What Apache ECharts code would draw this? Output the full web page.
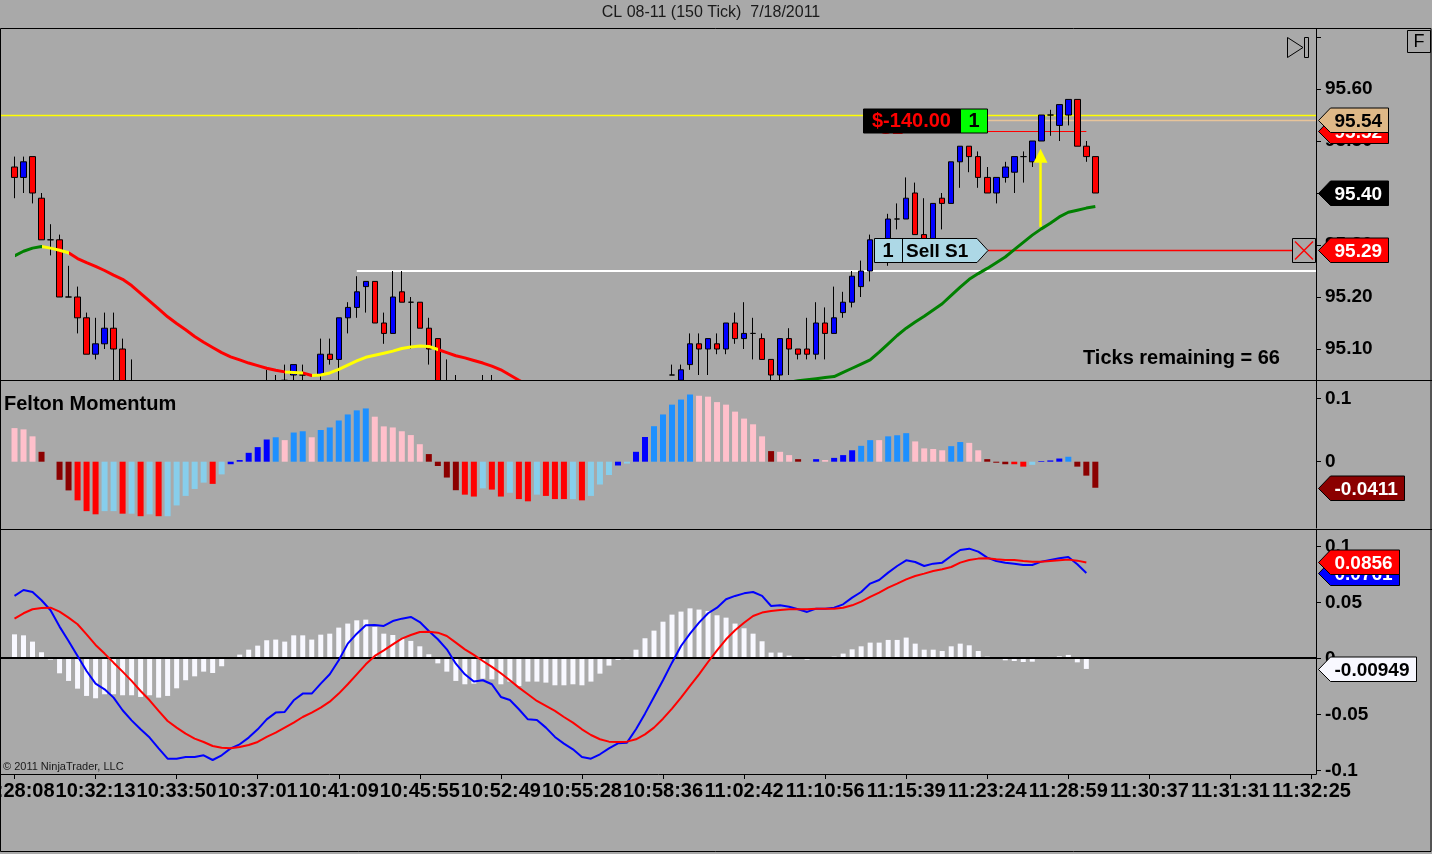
<!DOCTYPE html>
<html><head><meta charset="utf-8">
<script src="https://cdn.jsdelivr.net/npm/echarts@6.0.0/dist/echarts.min.js"></script>
<style>html,body{margin:0;padding:0;background:#a9a9a9;}#c{width:1432px;height:854px;}</style>
</head><body><div id="c"></div>
<script>
// ---------------- DATA ----------------
const chartTitle = 'CL 08-11 (150 Tick)  7/18/2011';
const tickLabels = ['10:28:08','10:32:13','10:33:50','10:37:01','10:41:09','10:45:55','10:52:49','10:55:28','10:58:36',
  '11:02:42','11:10:56','11:15:39','11:23:24','11:28:59','11:30:37','11:31:31','11:32:25'];
const barsPerTick = 9;
const totalSlots = 145;
// [open, close, low, high]
const candles = [
 [95.45,95.43,95.39,95.47],[95.43,95.46,95.40,95.47],[95.47,95.40,95.38,95.47],[95.39,95.31,95.31,95.40],[95.31,95.31,95.28,95.34],
 [95.31,95.20,95.20,95.32],[95.20,95.20,95.20,95.26],[95.20,95.16,95.13,95.22],[95.16,95.09,95.09,95.17],[95.09,95.11,95.08,95.16],
 [95.11,95.14,95.10,95.17],[95.14,95.10,95.02,95.17],[95.10,95.00,94.98,95.12],[95.00,94.96,94.94,95.08],[94.96,94.97,94.94,94.99],
 [94.97,94.95,94.94,94.98],[94.95,94.93,94.92,94.96],[94.93,94.94,94.91,94.95],[94.94,94.96,94.93,94.97],[94.96,94.97,94.95,94.98],
 [94.97,94.96,94.95,94.99],[94.96,94.98,94.95,94.99],[94.98,94.96,94.95,94.99],[94.96,94.99,94.95,95.00],[94.99,95.01,94.98,95.02],
 [95.01,95.00,94.99,95.03],[95.00,95.02,94.99,95.03],[95.02,95.03,95.00,95.03],[95.03,95.02,95.01,95.06],[95.02,95.03,95.01,95.05],
 [95.03,95.04,95.02,95.07],[95.05,95.07,95.04,95.07],[95.05,95.05,95.04,95.07],[95.04,95.02,95.01,95.04],[95.05,95.09,95.03,95.12],
 [95.09,95.08,95.07,95.12],[95.08,95.16,95.04,95.16],[95.16,95.18,95.13,95.19],[95.18,95.21,95.16,95.24],[95.22,95.23,95.17,95.23],
 [95.23,95.15,95.15,95.23],[95.15,95.13,95.11,95.17],[95.13,95.20,95.13,95.25],[95.21,95.19,95.19,95.25],[95.19,95.19,95.10,95.20],
 [95.19,95.14,95.14,95.19],[95.14,95.10,95.07,95.16],[95.12,95.02,95.00,95.12],[95.02,95.01,94.99,95.08],[95.01,95.00,94.98,95.05],
 [95.00,94.98,94.97,95.02],[94.98,94.99,94.97,95.01],[94.99,95.01,94.98,95.05],[95.01,94.99,94.98,95.05],[94.99,94.96,94.95,95.00],
 [94.96,94.97,94.94,94.98],[94.97,94.94,94.93,94.98],[94.94,94.92,94.91,94.95],[94.92,94.93,94.91,94.95],[94.93,94.91,94.90,94.94],
 [94.91,94.89,94.88,94.92],[94.89,94.88,94.87,94.90],[94.88,94.89,94.87,94.91],[94.89,94.87,94.86,94.90],[94.87,94.89,94.86,94.90],
 [94.89,94.92,94.88,94.93],[94.92,94.95,94.91,94.96],[94.95,94.97,94.94,94.98],[94.97,94.96,94.95,94.99],[94.96,95.00,94.95,95.01],
 [95.00,95.02,94.99,95.03],[95.02,95.03,95.01,95.03],[95.03,95.02,95.01,95.03],[95.05,95.05,95.05,95.07],[95.04,95.06,95.03,95.07],
 [95.07,95.11,95.06,95.13],[95.11,95.10,95.05,95.13],[95.10,95.12,95.05,95.12],[95.11,95.10,95.09,95.13],[95.10,95.15,95.09,95.15],
 [95.15,95.12,95.11,95.17],[95.12,95.13,95.10,95.19],[95.13,95.13,95.08,95.16],[95.12,95.08,95.08,95.13],[95.08,95.05,95.03,95.08],
 [95.05,95.12,95.04,95.12],[95.12,95.10,95.05,95.14],[95.10,95.09,95.08,95.10],[95.10,95.09,95.08,95.16],[95.09,95.15,95.08,95.19],
 [95.15,95.13,95.08,95.18],[95.13,95.16,95.13,95.22],[95.17,95.19,95.16,95.21],[95.19,95.24,95.18,95.25],[95.22,95.25,95.20,95.27],
 [95.25,95.31,95.23,95.32],[95.30,95.31,95.28,95.31],[95.31,95.35,95.26,95.36],[95.35,95.35,95.33,95.38],[95.35,95.39,95.35,95.43],
 [95.40,95.32,95.32,95.42],[95.32,95.31,95.31,95.39],[95.31,95.38,95.31,95.38],[95.39,95.38,95.33,95.40],[95.38,95.46,95.38,95.46],
 [95.46,95.49,95.41,95.49],[95.49,95.47,95.44,95.49],[95.47,95.43,95.41,95.48],[95.43,95.40,95.40,95.45],[95.40,95.43,95.38,95.43],
 [95.43,95.45,95.42,95.46],[95.44,95.47,95.40,95.47],[95.47,95.47,95.42,95.48],[95.46,95.50,95.45,95.50],[95.50,95.55,95.50,95.55],
 [95.55,95.55,95.51,95.56],[95.53,95.57,95.50,95.57],[95.55,95.58,95.53,95.58],[95.58,95.49,95.49,95.58],[95.49,95.47,95.46,95.50],
 [95.47,95.40,95.40,95.47]
];
const maValues = [
 95.279,95.288,95.294,95.297,95.294,95.290,95.285,95.274,95.266,95.259,
 95.251,95.242,95.234,95.222,95.207,95.192,95.177,95.162,95.149,95.137,
 95.124,95.113,95.103,95.093,95.085,95.079,95.073,95.068,95.063,95.059,
 95.056,95.055,95.054,95.049,95.050,95.054,95.061,95.069,95.077,95.084,
 95.088,95.092,95.096,95.101,95.104,95.106,95.105,95.099,95.093,95.087,
 95.083,95.078,95.073,95.067,95.060,95.050,95.040,95.031,95.022,95.013,
 95.004,94.996,94.988,94.981,94.975,94.970,94.966,94.963,94.961,94.960,
 94.960,94.961,94.963,94.966,94.970,94.975,94.981,94.988,94.995,95.002,
 95.009,95.015,95.021,95.026,95.030,95.033,95.036,95.039,95.041,95.043,
 95.045,95.047,95.055,95.063,95.071,95.079,95.094,95.110,95.126,95.140,
 95.152,95.163,95.175,95.187,95.203,95.219,95.234,95.245,95.255,95.266,
 95.277,95.291,95.305,95.319,95.331,95.342,95.354,95.363,95.367,95.371,
 95.374
];
// MA colour segments (bar index ranges): rising / flat / falling
const maTrend = [[0,3.0,'up'],[3.0,6.0,'flat'],[6.0,29.8,'down'],[29.8,31.9,'flat'],[31.9,33.0,'down'],
  [33.0,46.5,'flat'],[46.5,72,'down'],[72,80,'flat'],[80,121,'up']];
const feltonValues = [
 0.053,0.051,0.040,0.0156,0.0,-0.0286,-0.0453,-0.061,-0.078,-0.083,
 -0.078,-0.078,-0.082,-0.082,-0.086,-0.083,-0.086,-0.086,-0.069,-0.054,
 -0.043,-0.033,-0.035,-0.020,-0.004,0.0026,0.014,0.023,0.035,0.0385,
 0.034,0.046,0.048,0.0385,0.050,0.054,0.065,0.0745,0.081,0.084,
 0.071,0.0557,0.054,0.048,0.042,0.0276,0.012,-0.0068,-0.025,-0.045,
 -0.052,-0.055,-0.042,-0.044,-0.055,-0.049,-0.059,-0.0625,-0.052,-0.054,
 -0.059,-0.059,-0.059,-0.061,-0.054,-0.036,-0.021,-0.006,-0.003,0.0156,
 0.039,0.056,0.0745,0.090,0.098,0.106,0.104,0.1026,0.094,0.090,
 0.079,0.068,0.059,0.040,0.0167,0.0156,0.0104,0.004,0.0,0.004,
 0.0026,0.006,0.0104,0.018,0.025,0.034,0.034,0.040,0.0417,0.045,
 0.032,0.021,0.020,0.018,0.0245,0.031,0.0297,0.018,0.004,-0.0016,
 -0.004,-0.004,-0.0078,-0.005,0.001,0.002,0.005,0.0078,-0.0078,-0.022,
 -0.0411
];
// P pink, D dark red, R red, S sky blue, B blue, L dodger blue
const feltonStates = [
 'P','P','P','D','D','D','D','R','R','R',
 'S','S','R','S','R','S','R','S','S','S',
 'S','S','R','S','B','B','B','B','B','L',
 'P','L','L','P','L','L','L','L','L','L',
 'P','P','P','P','P','P','D','D','D','D',
 'R','R','S','R','R','S','R','R','S','R',
 'R','R','S','R','S','S','S','B','S','B',
 'B','L','L','L','L','L','P','P','P','P',
 'P','P','P','P','D','P','P','D','D','B',
 'P','B','B','B','L','L','P','L','L','L',
 'P','P','P','P','L','L','P','P','D','D',
 'D','R','R','S','B','B','B','L','D','D',
 'D'
];
const macdValues = [
 0.0557,0.061,0.0592,0.0518,0.0429,0.0283,0.0155,0.0021,-0.0113,-0.0226,
 -0.0277,-0.0351,-0.0464,-0.0554,-0.0634,-0.0708,-0.0804,-0.0896,-0.0896,-0.0881,
 -0.0881,-0.0866,-0.0908,-0.0866,-0.0804,-0.0768,-0.0708,-0.0634,-0.0545,-0.0485,
 -0.0479,-0.0375,-0.0315,-0.0315,-0.0226,-0.0143,-0.0018,0.0131,0.022,0.0295,
 0.0298,0.0289,0.0333,0.0354,0.0369,0.0324,0.0244,0.017,0.008,-0.0048,
 -0.0143,-0.0208,-0.0196,-0.0232,-0.0345,-0.0372,-0.0455,-0.0545,-0.0551,-0.0619,
 -0.0702,-0.0762,-0.0813,-0.0881,-0.0896,-0.0857,-0.0804,-0.0759,-0.0753,-0.0634,
 -0.0494,-0.0345,-0.0196,-0.0039,0.011,0.022,0.0318,0.0402,0.0452,0.0527,
 0.0557,0.058,0.0592,0.0557,0.0467,0.0473,0.0461,0.0438,0.0414,0.0443,
 0.0443,0.0452,0.0482,0.0542,0.0592,0.0667,0.0699,0.0765,0.0824,0.0875,
 0.086,0.0824,0.0845,0.0854,0.0914,0.0967,0.0979,0.0952,0.0899,0.0869,
 0.0854,0.0845,0.0833,0.0833,0.0863,0.0878,0.0893,0.0905,0.0839,0.0761
];
const signalValues = [
 0.0354,0.0402,0.0438,0.0449,0.0452,0.0417,0.0363,0.0304,0.0214,0.0119,
 0.0042,-0.0039,-0.0119,-0.0202,-0.0292,-0.0375,-0.047,-0.056,-0.0619,-0.0673,
 -0.0717,-0.0747,-0.0783,-0.0798,-0.0804,-0.0792,-0.0774,-0.0747,-0.0702,-0.0664,
 -0.0619,-0.0574,-0.0524,-0.0485,-0.044,-0.0387,-0.0315,-0.0232,-0.0143,-0.0054,
 0.0021,0.0071,0.0125,0.0176,0.0208,0.0235,0.0238,0.0229,0.0199,0.014,
 0.008,0.003,-0.0024,-0.0077,-0.0134,-0.0196,-0.0262,-0.0321,-0.0381,-0.0425,
 -0.047,-0.0524,-0.0574,-0.0634,-0.0685,-0.0723,-0.0744,-0.0747,-0.0744,-0.0723,
 -0.0679,-0.0619,-0.0539,-0.0449,-0.0351,-0.0247,-0.0143,-0.0033,0.0071,0.017,
 0.025,0.0318,0.0378,0.0408,0.0423,0.0432,0.0438,0.0438,0.0438,0.0443,
 0.0443,0.0443,0.0452,0.0473,0.0506,0.0548,0.0586,0.0631,0.0667,0.0705,
 0.0735,0.0756,0.078,0.0795,0.0815,0.0854,0.0878,0.089,0.0893,0.0884,
 0.0878,0.0878,0.0869,0.0863,0.0863,0.0869,0.0875,0.0881,0.0872,0.0856
];
const histValues = [
 0.0214,0.0205,0.0149,0.0054,-0.0012,-0.0134,-0.0202,-0.0271,-0.0336,-0.0357,
 -0.0321,-0.0321,-0.033,-0.033,-0.0345,-0.033,-0.0351,-0.0336,-0.0268,-0.0196,
 -0.0161,-0.0119,-0.0131,-0.0071,0,0.0033,0.0077,0.0113,0.0161,0.0167,
 0.0149,0.0205,0.0205,0.0167,0.0211,0.022,0.0274,0.031,0.0339,0.0345,
 0.028,0.022,0.0208,0.0176,0.0155,0.0107,0.0036,-0.0045,-0.0119,-0.0202,
 -0.0232,-0.0226,-0.0182,-0.0188,-0.0232,-0.0208,-0.0247,-0.0208,-0.0208,-0.0217,
 -0.0241,-0.0241,-0.0232,-0.0241,-0.0208,-0.0137,-0.0065,-0.0015,-0.0009,0.0077,
 0.0179,0.0247,0.0327,0.039,0.0417,0.0446,0.0435,0.0423,0.0384,0.0363,
 0.031,0.0268,0.022,0.0152,0.0051,0.0051,0.0024,0.0009,-0.0012,0.0009,
 0.0009,0.0015,0.0042,0.008,0.0107,0.014,0.014,0.0164,0.0164,0.0185,
 0.0131,0.0077,0.0077,0.0065,0.0107,0.0131,0.0116,0.0065,0.0015,-0.0006,
 -0.0018,-0.0024,-0.0033,-0.003,0.0009,0.0012,0.0018,0.003,-0.0036,-0.00949
];
const priceTicks = [95.1,95.2,95.3,95.4,95.5,95.6,95.7];
const priceLabels = [95.1,95.2,95.3,95.4,95.5,95.6];
const feltonTicks = [0,0.1];
const macdTicks = [-0.1,-0.05,0,0.05,0.1];
// trade / chart annotations
const highLine = 95.55;
const swingLine = 95.25, swingStartBar = 38;
const positionPrice = 95.54, stopPrice = 95.52, sellPrice = 95.29;
const orderBar = 108, stopEndBar = 119;
const pnlText = '$-140.00', positionQty = '1', stopName = 'S2', sellName = 'Sell S1';
const arrowBar = 114, arrowTop = 95.485, arrowBottom = 95.335;
const ticksRemaining = 66;

// ---------------- CHART ----------------
const FONT = '"Liberation Sans", Arial, Helvetica, sans-serif';
const BG = '#a9a9a9';
const PAD = 1;
const slots = Array.from({length: PAD + totalSlots}, (_, i) => String(i - PAD));
const showTick = (idx) => { const b = idx - PAD; return b >= 0 && b % barsPerTick === 0; };
const stateColor = {P:'#ffc0cb', D:'#8b0000', R:'#ff0000', S:'#87ceeb', B:'#0000ff', L:'#1e90ff'};
const trendColor = {up:'#008000', flat:'#ffff00', down:'#ff0000'};

const gridL = 1, gridR = 116;
const grids = [
  {left: gridL, right: gridR, top: 29, height: 351, containLabel:false, outerBoundsMode:'none'},
  {left: gridL, right: gridR, top: 381, height: 147, containLabel:false, outerBoundsMode:'none'},
  {left: gridL, right: gridR, top: 530, height: 244, containLabel:false, outerBoundsMode:'none'}
];
function xAxis(i, show) {
  return {type:'category', gridIndex:i, data:slots, boundaryGap:true,
    axisLine:{show:show, onZero:false, lineStyle:{color:'#000', width:1}},
    axisTick:{show:show, interval:showTick, alignWithLabel:true, length:5, lineStyle:{color:'#000'}},
    axisLabel:{show:show, interval:showTick, showMinLabel:true, showMaxLabel:true, hideOverlap:false,
      margin:7, color:'#000', fontFamily:FONT, fontWeight:'bold', fontSize:20,
      formatter:(v, idx) => { const b = idx - PAD; return (b >= 0 && b % barsPerTick === 0) ? (tickLabels[b / barsPerTick] || '') : ''; }},
    splitLine:{show:false}};
}
function yAxis(i, min, max, ticks, labels, fmt) {
  return {type:'value', gridIndex:i, position:'right', min, max, scale:true,
    axisLine:{show:true, lineStyle:{color:'#000', width:1}},
    axisTick:{show:true, length:5, customValues:ticks, lineStyle:{color:'#000'}},
    axisLabel:{show:true, customValues:labels, margin:9, color:'#000', fontFamily:FONT, fontWeight:'bold', fontSize:19, formatter:fmt},
    splitLine:{show:false}};
}
const candleData = candles.map((c, i) => [PAD + i, c[0], c[1], c[2], c[3]]);
const maData = maValues.map((v, i) => [PAD + i, v]);
const feltonData = feltonValues.map((v, i) => ({value:[PAD + i, v], itemStyle:{color: stateColor[feltonStates[i]]}}));
const histData = histValues.map((v, i) => [PAD + i, v]);
const macdData = macdValues.map((v, i) => [PAD + i, v]);
const signalData = signalValues.map((v, i) => [PAD + i, v]);

const option = {
  animation:false,
  backgroundColor: BG,
  grid: grids,
  xAxis: [xAxis(0,false), xAxis(1,false), xAxis(2,true)],
  yAxis: [
    yAxis(0, 95.0404, 95.7154, priceTicks, priceLabels, v => v.toFixed(2)),
    yAxis(1, -0.1046, 0.1273, feltonTicks, feltonTicks, v => String(v)),
    yAxis(2, -0.1033, 0.11455, macdTicks, macdTicks, v => String(v))
  ],
  visualMap: [{type:'piecewise', show:false, dimension:0, seriesIndex:1,
    pieces: maTrend.map(s => ({gte: s[0] + PAD, lt: s[1] + PAD, color: trendColor[s[2]]}))}],
  series: [
    {type:'candlestick', xAxisIndex:0, yAxisIndex:0, data:candleData, encode:{x:0, y:[1,2,3,4]}, barWidth:6, clip:true, z:3,
      itemStyle:{color:'#0000ff', color0:'#ff0000', borderColor:'#000', borderColor0:'#000', borderColorDoji:'#000', borderWidth:1}},
    {type:'line', xAxisIndex:0, yAxisIndex:0, data:maData, symbol:'none', clip:true, z:4, lineStyle:{width:3}},
    {type:'bar', xAxisIndex:1, yAxisIndex:1, data:feltonData, barWidth:6, z:10},
    {type:'bar', xAxisIndex:2, yAxisIndex:2, data:histData, barWidth:5, z:10, itemStyle:{color:'#f8f8ff'}},
    {type:'line', xAxisIndex:2, yAxisIndex:2, data:macdData, symbol:'none', z:12, lineStyle:{color:'#0000ff', width:2}},
    {type:'line', xAxisIndex:2, yAxisIndex:2, data:signalData, symbol:'none', z:13, lineStyle:{color:'#ff0000', width:2}}
  ]
};
const chart = echarts.init(document.getElementById('c'), null, {renderer:'canvas', width:1432, height:854});
chart.setOption(option);

// ---------------- ANNOTATIONS (positioned through the axes) ----------------
const mctx = document.createElement('canvas').getContext('2d');
const tw = (t, f) => { mctx.font = f; return mctx.measureText(t).width; };
const TAGFONT = 'bold 19px ' + FONT;
const BOXFONT = 'bold 20px ' + FONT;
const yPx = (ax, v) => chart.convertToPixel({yAxisIndex: ax}, v);
const xPx = b => chart.convertToPixel({xAxisIndex: 0}, PAD + b);
const axisX = 1432 - gridR;
const G = [];
const txt = (x, y, text, font, fill, align, z) => ({type:'text', x, y, silent:true, z: z || 20,
  style:{text, font, fill, textAlign: align || 'left', textVerticalAlign:'middle', align: align || 'left', verticalAlign:'middle'}});
const line = (x1, y1, x2, y2, stroke, w, z) => ({type:'line', silent:true, z: z || 1, shape:{x1, y1, x2, y2}, style:{stroke, lineWidth: w || 1}});
let tagZ = 40;
function tag(ax, value, text, fill, color) {
  const cy = Math.round(yPx(ax, value)) + 0.5;
  const tip = axisX + 2.5, notch = tip + 12, tx = tip + 16;
  const right = Math.round(tx + tw(text, TAGFONT) + 6) + 0.5;
  G.push({type:'polygon', silent:true, z:tagZ, shape:{points:[[tip,cy],[notch,cy-12.5],[right,cy-12.5],[right,cy+12],[notch,cy+12]]},
    style:{fill, stroke:'#000', lineWidth:1}});
  G.push(txt(tx, cy + 1, text, TAGFONT, color, 'left', tagZ + 1));
  tagZ += 2;
}
// mask: price candles do not spill into the indicator pane
const paneBottom = yPx(0, 95.0404), feltonBottom = yPx(1, -0.1046);
G.push({type:'rect', silent:true, z:5, shape:{x:gridL, y:Math.ceil(paneBottom), width:axisX - gridL - 0.5, height:feltonBottom - paneBottom}, style:{fill:BG}});
// frame and pane separators
G.push({type:'rect', silent:true, z:30, shape:{x:0.5, y:28.5, width:1430.5, height:823}, style:{fill:'none', stroke:'#000', lineWidth:1}});
G.push(line(0, 380.5, 1432, 380.5, '#000', 1, 30));
G.push(line(0, 529.5, 1432, 529.5, '#000', 1, 30));
const yZero = Math.round(yPx(2, 0));
G.push(line(0, yZero, axisX, yZero, '#000', 2, 11));
G.push(txt(711, 13, chartTitle, '16px ' + FONT, '#1a1a1a', 'center'));
G.push(txt(4, 404, 'Felton Momentum', 'bold 20px ' + FONT, '#000', 'left'));
G.push(txt(3, 767, '\u00a9 2011 NinjaTrader, LLC', '11px ' + FONT, '#1a1a1a', 'left'));
G.push(txt(1083, 358, 'Ticks remaining = ' + ticksRemaining, 'bold 20px ' + FONT, '#000', 'left'));
// price lines
const yHigh = Math.round(yPx(0, highLine)) + 0.5;
G.push(line(0, yHigh, axisX, yHigh, '#ffff00', 1.3));
const ySwing = Math.round(yPx(0, swingLine));
G.push(line(xPx(swingStartBar), ySwing, axisX, ySwing, '#ffffff', 2));
const oX = Math.round(xPx(orderBar)) + 1;
const yPos = Math.round(yPx(0, positionPrice)) + 0.5;
G.push(line(oX, yPos, axisX, yPos, '#e8c49a', 1.3));
const yStop = Math.round(yPx(0, stopPrice)) + 0.5;
G.push(line(oX, yStop, xPx(stopEndBar), yStop, '#ff0000', 1));
const ySell = Math.round(yPx(0, sellPrice)) + 0.5;
G.push(line(oX, ySell, axisX - 24, ySell, '#ff0000', 1.5));
// stop label text (mostly hidden), pnl box
G.push(txt(oX - 109, yStop - 3, stopName, 'bold 20px ' + FONT, '#ff0000', 'left', 9));
G.push({type:'rect', silent:true, z:10, shape:{x:oX - 125 + 0.5, y:Math.round(yPos) - 12, width:97, height:24}, style:{fill:'#000', stroke:'#000'}});
G.push({type:'rect', silent:true, z:10, shape:{x:oX - 28 + 0.5, y:Math.round(yPos) - 12, width:27, height:24}, style:{fill:'#00ff00', stroke:'#000'}});
G.push(txt(oX - 116, yPos + 1, pnlText, BOXFONT, '#ff0000', 'left', 11));
G.push(txt(oX - 14, yPos + 1, positionQty, BOXFONT, '#000', 'center', 11));
// sell order box
const sL = oX - 114;
G.push({type:'polygon', silent:true, z:10, shape:{points:[[sL+0.5,ySell-12],[oX-11,ySell-12],[oX,ySell],[oX-11,ySell+12],[sL+0.5,ySell+12]]},
  style:{fill:'#add8e6', stroke:'#000', lineWidth:1}});
G.push(line(sL + 28.5, ySell - 12, sL + 28.5, ySell + 12, '#000', 1, 11));
G.push(txt(sL + 14, ySell + 1, positionQty, BOXFONT, '#000', 'center', 11));
G.push(txt(sL + 32, ySell + 1, sellName, 'bold 19px ' + FONT, '#000', 'left', 11));
// close box with X
const bxL = axisX - 24;
G.push({type:'rect', silent:true, z:10, shape:{x:bxL + 0.5, y:ySell - 12, width:23, height:24}, style:{fill:BG, stroke:'#000', lineWidth:1}});
G.push(line(bxL + 3, ySell - 9, bxL + 21, ySell + 9, '#ff0000', 1.5, 11));
G.push(line(bxL + 21, ySell - 9, bxL + 3, ySell + 9, '#ff0000', 1.5, 11));
// signal arrow
const aX = Math.round(xPx(arrowBar)) - 0.5, aT = yPx(0, arrowTop), aB = yPx(0, arrowBottom);
G.push(line(aX, aT + 10, aX, aB, '#ffff00', 2.5, 10));
G.push({type:'polygon', silent:true, z:10, shape:{points:[[aX, aT],[aX - 7, aT + 14],[aX + 7, aT + 14]]}, style:{fill:'#ffff00'}});
// icons
G.push({type:'polygon', silent:true, z:10, shape:{points:[[1287.5,37.5],[1287.5,57.5],[1303,47.5]]}, style:{fill:'none', stroke:'#000', lineWidth:1}});
G.push({type:'rect', silent:true, z:10, shape:{x:1304.5, y:37.5, width:4, height:20}, style:{fill:'none', stroke:'#000', lineWidth:1}});
G.push({type:'rect', silent:true, z:10, shape:{x:1407.5, y:30.5, width:23, height:22}, style:{fill:'none', stroke:'#000', lineWidth:1}});
G.push(txt(1419, 42, 'F', '18px ' + FONT, '#000', 'center'));
// right-hand value tags (later ones drawn on top)
const lastClose = candles[candles.length - 1][1];
tag(0, stopPrice, stopPrice.toFixed(2), '#ff0000', '#fff');
tag(0, positionPrice, positionPrice.toFixed(2), '#deb887', '#000');
tag(0, lastClose, lastClose.toFixed(2), '#000', '#fff');
tag(0, sellPrice, sellPrice.toFixed(2), '#ff0000', '#fff');
const lastF = feltonValues[feltonValues.length - 1];
tag(1, lastF, lastF.toFixed(4), '#8b0000', '#fff');
const lastM = macdValues[macdValues.length - 1], lastS = signalValues[signalValues.length - 1], lastH = histValues[histValues.length - 1];
tag(2, lastM, lastM.toFixed(4), '#0000ff', '#fff');
tag(2, lastS, lastS.toFixed(4), '#ff0000', '#fff');
tag(2, lastH, lastH.toPrecision(3), '#f8f8ff', '#000');
chart.setOption({graphic: G});
</script></body></html>
